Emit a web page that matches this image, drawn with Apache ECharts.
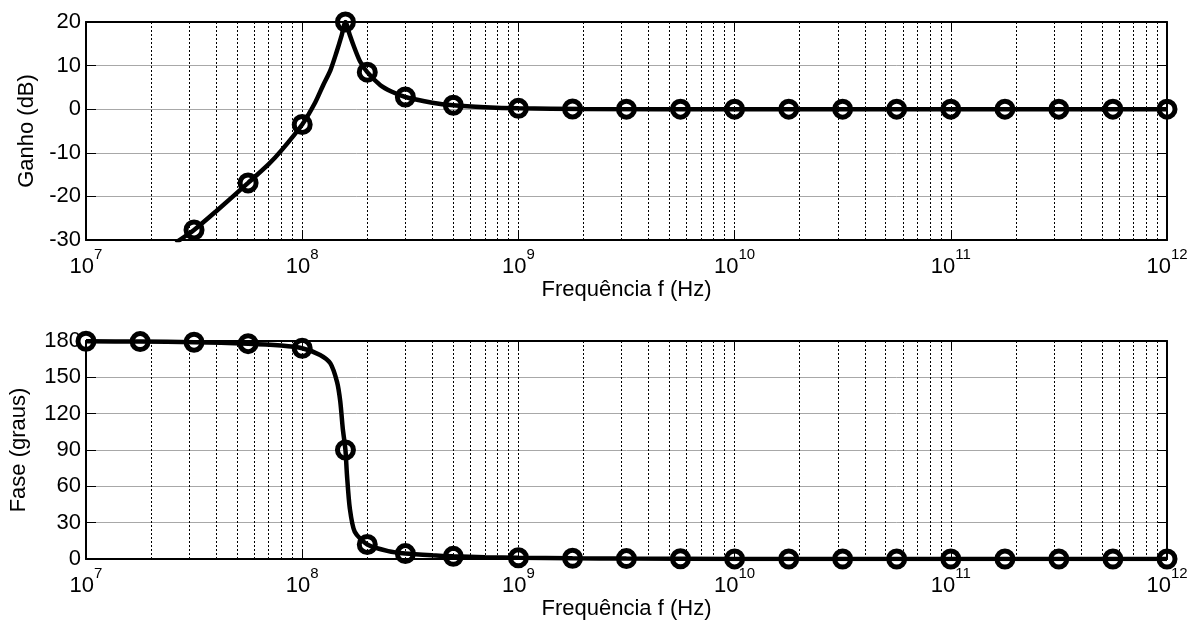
<!DOCTYPE html>
<html>
<head>
<meta charset="utf-8">
<title>Ganho e fase</title>
<script src="https://cdn.jsdelivr.net/npm/echarts@6/dist/echarts.min.js"></script>
<style>
  html, body { margin: 0; padding: 0; background: #fff; }
  #chart { width: 1199px; height: 623px; }
</style>
</head>
<body>
<div id="chart"></div>
<script>
// curva de ganho
var ganhoFreq = [2.6e7, 3.16e7, 4e7, 5.62e7, 7e7, 8e7, 1e8, 1.15e8, 1.25e8, 1.35e8, 1.44e8, 1.52e8, 1.585e8, 1.66e8, 1.74e8, 1.85e8, 2e8, 2.3e8, 2.6e8, 3e8, 4e8, 5e8, 7e8, 1e9, 2e9, 1e10, 1e12]
var ganhoDb = [-30.6, -27.7, -23.4, -16.9, -12.6, -9.5, -3.5, 1.6, 5.5, 8.9, 13.0, 16.8, 20, 17.0, 14.2, 11.0, 8.5, 5.5, 4.0, 2.8, 1.5, 0.9, 0.45, 0.2, 0.05, 0, 0]
// marcadores do ganho
var ganhoMarkFreq = [3.16e7, 5.62e7, 1e8, 1.585e8, 2e8, 3e8, 5e8, 1e9, 1.78e9, 3.16e9, 5.62e9, 1e10, 1.78e10, 3.16e10, 5.62e10, 1e11, 1.78e11, 3.16e11, 5.62e11, 1e12]
var ganhoMarkDb = [-27.7, -16.9, -3.5, 20, 8.5, 2.8, 0.9, 0.2, 0.05, 0, 0, 0, 0, 0, 0, 0, 0, 0, 0, 0]
// curva de fase
var faseFreq = [1e7, 1.78e7, 3.16e7, 5.62e7, 8e7, 1e8, 1.21e8, 1.35e8, 1.45e8, 1.5e8, 1.54e8, 1.585e8, 1.61e8, 1.66e8, 1.75e8, 2e8, 2.5e8, 3e8, 4e8, 5e8, 7e8, 1e9, 1.78e9, 3.16e9, 1e10, 1e12]
var faseGraus = [179.8, 179.5, 179, 177.8, 176.2, 174, 168.5, 161.5, 146, 130, 108, 90, 70, 42, 22.5, 12, 6.5, 4.5, 3, 2.2, 1.5, 1, 0.6, 0.35, 0.1, 0]
// marcadores da fase
var faseMarkFreq = [1e7, 1.78e7, 3.16e7, 5.62e7, 1e8, 1.585e8, 2e8, 3e8, 5e8, 1e9, 1.78e9, 3.16e9, 5.62e9, 1e10, 1.78e10, 3.16e10, 5.62e10, 1e11, 1.78e11, 3.16e11, 5.62e11, 1e12]
var faseMarkGraus = [179.8, 179.5, 179, 177.8, 174, 90, 12, 4.5, 2.2, 1, 0.6, 0.35, 0.2, 0.1, 0, 0, 0, 0, 0, 0, 0, 0]
// eixos
var ganhoTicks = [-30, -20, -10, 0, 10, 20]
var faseTicks = [0, 30, 60, 90, 120, 150, 180]
var freqMin = 1e7
var freqMax = 1e12

var fonte = 'Liberation Sans, Arial, sans-serif'

function pares (xs, ys) {
  return xs.map(function (x, i) { return [x, ys[i]] })
}

// linhas pontilhadas das subdivisoes (2..9 de cada decada)
var menores = []
for (var d = 7; d < 12; d++) {
  for (var m = 2; m <= 9; m++) {
    menores.push({ xAxis: m * Math.pow(10, d) })
  }
}

function eixoX (grid, pos, comRotulo) {
  return {
    type: 'log',
    logBase: 10,
    gridIndex: grid,
    position: pos,
    min: freqMin,
    max: freqMax,
    splitNumber: 5,
    name: comRotulo ? 'Frequência f (Hz)' : '',
    nameLocation: 'middle',
    nameGap: 38,
    nameTextStyle: { color: '#000', fontSize: 22, fontFamily: fonte },
    axisLine: { show: true, onZero: false, lineStyle: { color: '#000', width: 2 } },
    axisTick: { show: true, inside: true, length: 8, lineStyle: { color: '#000', width: 1 } },
    axisLabel: {
      show: comRotulo,
      margin: 7,
      formatter: function (v) {
        return '{b|10}{e|' + Math.round(Math.log10(v)) + '}'
      },
      rich: {
        b: { fontSize: 22, color: '#000', fontFamily: fonte, padding: [9, 0, 0, 0] },
        e: { fontSize: 15, color: '#000', fontFamily: fonte, verticalAlign: 'top' }
      }
    },
    splitLine: comRotulo ? { show: true, lineStyle: { color: '#000', type: [2, 2], width: 1 } } : { show: false },
    minorTick: { show: false },
    minorSplitLine: { show: false }
  }
}

function eixoY (grid, pos, ticks, nome, gap) {
  var esq = pos === 'left'
  return {
    type: 'value',
    gridIndex: grid,
    position: pos,
    min: ticks[0],
    max: ticks[ticks.length - 1],
    interval: ticks[1] - ticks[0],
    name: esq ? nome : '',
    nameLocation: 'middle',
    nameGap: gap,
    nameTextStyle: { color: '#000', fontSize: 22, fontFamily: fonte },
    axisLine: { show: true, onZero: false, lineStyle: { color: '#000', width: 2 } },
    axisTick: { show: true, inside: true, length: 10, lineStyle: { color: '#000', width: 1 } },
    axisLabel: { show: esq, margin: 5, color: '#000', fontSize: 22, fontFamily: fonte },
    splitLine: { show: esq, lineStyle: { color: '#a8a8a8', width: 1 } }
  }
}

var estiloLinha = { color: '#000', width: 4.5 }
var estiloMarca = { color: 'rgba(0,0,0,0)', borderColor: '#000', borderWidth: 5, opacity: 1 }

var chart = echarts.init(document.getElementById('chart'), null, { renderer: 'canvas' })
chart.setOption({
  backgroundColor: '#fff',
  animation: false,
  grid: [
    { left: 86, right: 32, top: 22, height: 218 },
    { left: 86, right: 32, top: 341, height: 218 }
  ],
  xAxis: [
    eixoX(0, 'bottom', true),
    eixoX(0, 'top', false),
    eixoX(1, 'bottom', true),
    eixoX(1, 'top', false)
  ],
  yAxis: [
    eixoY(0, 'left', ganhoTicks, 'Ganho (dB)', 48),
    eixoY(0, 'right', ganhoTicks, '', 0),
    eixoY(1, 'left', faseTicks, 'Fase (graus)', 56),
    eixoY(1, 'right', faseTicks, '', 0)
  ],
  series: [
    {
      type: 'line',
      xAxisIndex: 0,
      yAxisIndex: 0,
      data: pares(ganhoFreq, ganhoDb),
      smooth: 0.25,
      showSymbol: false,
      clip: true,
      lineStyle: estiloLinha,
      itemStyle: { color: '#000' },
      z: 3,
      markLine: {
        silent: true,
        symbol: 'none',
        label: { show: false },
        lineStyle: { color: '#000', type: [2, 2], width: 1 },
        data: menores,
        z: 1
      }
    },
    {
      type: 'scatter',
      xAxisIndex: 0,
      yAxisIndex: 0,
      data: pares(ganhoMarkFreq, ganhoMarkDb),
      symbol: 'circle',
      symbolSize: 16,
      clip: false,
      itemStyle: estiloMarca,
      z: 4
    },
    {
      type: 'line',
      xAxisIndex: 2,
      yAxisIndex: 2,
      data: pares(faseFreq, faseGraus),
      smooth: 0.25,
      showSymbol: false,
      clip: true,
      lineStyle: estiloLinha,
      itemStyle: { color: '#000' },
      z: 3,
      markLine: {
        silent: true,
        symbol: 'none',
        label: { show: false },
        lineStyle: { color: '#000', type: [2, 2], width: 1 },
        data: menores,
        z: 1
      }
    },
    {
      type: 'scatter',
      xAxisIndex: 2,
      yAxisIndex: 2,
      data: pares(faseMarkFreq, faseMarkGraus),
      symbol: 'circle',
      symbolSize: 16,
      clip: false,
      itemStyle: estiloMarca,
      z: 4
    }
  ]
})
</script>
</body>
</html>
